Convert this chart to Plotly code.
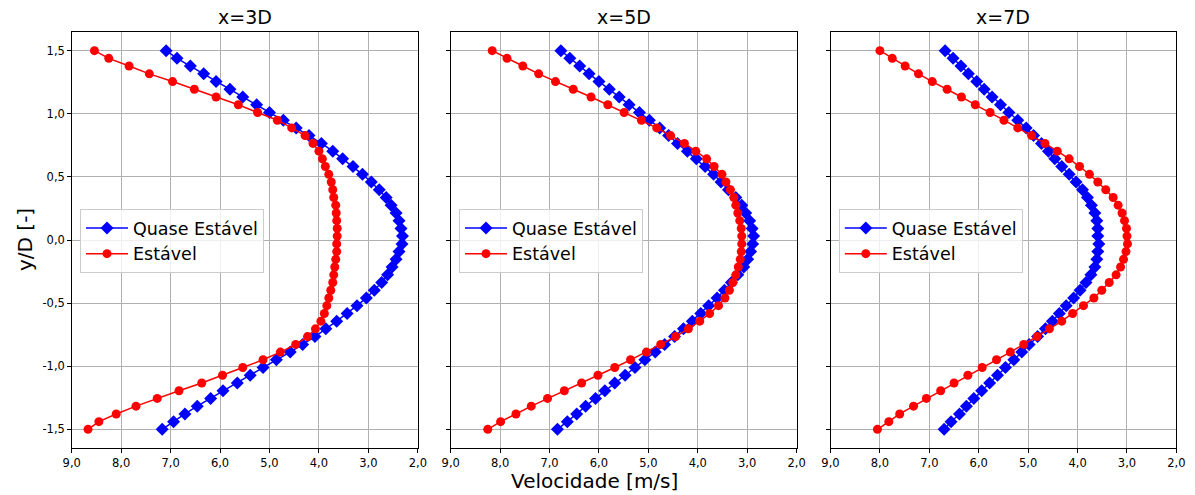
import plotly.graph_objects as go

# ---------------- data ----------------
y_pos = [1.5, 1.439, 1.378, 1.316, 1.255, 1.194, 1.133, 1.071, 1.010, 0.949,
         0.888, 0.827, 0.765, 0.704, 0.643, 0.582, 0.520, 0.459, 0.398, 0.337,
         0.276, 0.214, 0.153, 0.092, 0.031,
         -0.031, -0.092, -0.153, -0.214, -0.276, -0.337, -0.398, -0.459, -0.520, -0.582,
         -0.643, -0.704, -0.765, -0.827, -0.888, -0.949, -1.010, -1.071, -1.133, -1.194,
         -1.255, -1.316, -1.378, -1.439, -1.5]

titles = ["x=3D", "x=5D", "x=7D"]
series_names = ["Quase Estável", "Estável"]

quase_3D = [7.09, 6.87, 6.60, 6.33, 6.08, 5.80, 5.54, 5.26, 5.00, 4.72, 4.46, 4.20, 3.95,
            3.72, 3.52, 3.31, 3.12, 2.94, 2.78, 2.64, 2.54, 2.44, 2.38, 2.34, 2.31,
            2.32, 2.38, 2.44, 2.52, 2.61, 2.73, 2.88, 3.04, 3.23, 3.43, 3.64, 3.86, 4.08,
            4.33, 4.58, 4.86, 5.13, 5.39, 5.65, 5.94, 6.19, 6.46, 6.71, 6.94, 7.17]
estavel_3D = [8.54, 8.25, 7.84, 7.43, 6.96, 6.52, 6.08, 5.63, 5.24, 4.84, 4.55, 4.28, 4.12,
              4.00, 3.93, 3.87, 3.80, 3.75, 3.72, 3.70, 3.66, 3.65, 3.64, 3.63, 3.63,
              3.64, 3.64, 3.66, 3.68, 3.70, 3.72, 3.76, 3.80, 3.84, 3.89, 3.96, 4.07, 4.23,
              4.47, 4.78, 5.13, 5.54, 5.95, 6.37, 6.83, 7.27, 7.70, 8.10, 8.45, 8.67]

quase_5D = [6.77, 6.59, 6.39, 6.20, 6.00, 5.79, 5.59, 5.39, 5.18, 4.98, 4.77, 4.59, 4.41,
            4.21, 4.03, 3.85, 3.68, 3.53, 3.38, 3.23, 3.11, 3.03, 2.95, 2.90, 2.87,
            2.89, 2.93, 2.99, 3.07, 3.19, 3.32, 3.46, 3.61, 3.78, 3.94, 4.11, 4.29, 4.47,
            4.67, 4.86, 5.07, 5.27, 5.47, 5.68, 5.88, 6.07, 6.27, 6.45, 6.64, 6.84]
estavel_5D = [8.16, 7.86, 7.54, 7.22, 6.88, 6.52, 6.16, 5.82, 5.49, 5.14, 4.83, 4.55, 4.27,
              4.04, 3.82, 3.67, 3.51, 3.43, 3.34, 3.27, 3.23, 3.19, 3.15, 3.12, 3.11,
              3.11, 3.12, 3.14, 3.18, 3.23, 3.29, 3.36, 3.45, 3.58, 3.76, 3.96, 4.19, 4.45,
              4.75, 5.04, 5.36, 5.68, 6.02, 6.35, 6.70, 7.04, 7.37, 7.68, 7.99, 8.25]

quase_7D = [6.68, 6.52, 6.36, 6.21, 6.04, 5.89, 5.73, 5.56, 5.39, 5.21, 5.04, 4.89, 4.73,
            4.59, 4.46, 4.32, 4.17, 4.03, 3.90, 3.80, 3.72, 3.65, 3.61, 3.59, 3.59,
            3.57, 3.59, 3.61, 3.65, 3.73, 3.83, 3.95, 4.08, 4.23, 4.37, 4.51, 4.65, 4.81,
            4.98, 5.13, 5.29, 5.46, 5.62, 5.78, 5.94, 6.10, 6.25, 6.39, 6.56, 6.70]
estavel_7D = [8.00, 7.75, 7.49, 7.22, 6.94, 6.64, 6.35, 6.07, 5.77, 5.49, 5.21, 4.93, 4.66,
              4.41, 4.17, 3.96, 3.76, 3.59, 3.43, 3.28, 3.18, 3.10, 3.05, 3.01, 3.00,
              2.99, 3.02, 3.07, 3.13, 3.22, 3.36, 3.51, 3.67, 3.88, 4.10, 4.32, 4.57, 4.82,
              5.09, 5.36, 5.64, 5.93, 6.22, 6.50, 6.77, 7.06, 7.32, 7.60, 7.82, 8.05]

x_tickvals = [9, 8, 7, 6, 5, 4, 3, 2]
x_ticktext = ["9,0", "8,0", "7,0", "6,0", "5,0", "4,0", "3,0", "2,0"]
y_tickvals = [1.5, 1.0, 0.5, 0.0, -0.5, -1.0, -1.5]
y_ticktext = ["1,5", "1,0", "0,5", "0,0", "-0,5", "-1,0", "-1,5"]

# ---------------- layout geometry ----------------
W, H = 1195, 495
FONT = "DejaVu Sans"
panels_px = [(71.7, 417.8), (450.7, 796.6), (830.5, 1176.4)]
y_top_px, y_bot_px = 31.7, 448.3
ydom = [1 - y_bot_px / H, 1 - y_top_px / H]

fig = go.Figure()
quase_all = [quase_3D, quase_5D, quase_7D]
est_all = [estavel_3D, estavel_5D, estavel_7D]

for i in range(3):
    sfx = "" if i == 0 else str(i + 1)
    leg = "legend" + sfx
    fig.add_trace(go.Scatter(
        x=quase_all[i], y=y_pos, mode="lines+markers", name=series_names[0],
        line=dict(color="#0000ff", width=1.5),
        marker=dict(symbol="diamond", size=10, color="#0000ff"),
        xaxis="x" + sfx, yaxis="y" + sfx, legend=leg))
    fig.add_trace(go.Scatter(
        x=est_all[i], y=y_pos, mode="lines+markers", name=series_names[1],
        line=dict(color="#ff0000", width=1.5),
        marker=dict(symbol="circle", size=9, color="#ff0000"),
        xaxis="x" + sfx, yaxis="y" + sfx, legend=leg))

axis_common = dict(showline=True, linecolor="black", linewidth=1, mirror=True,
                   showgrid=True, gridcolor="#b0b0b0", gridwidth=0.8,
                   ticks="outside", ticklen=3.5, tickwidth=1, tickcolor="black",
                   zeroline=False, tickfont=dict(family=FONT, size=11.5, color="black"),
                   automargin=False)

layout = dict(width=W, height=H, margin=dict(l=0, r=0, t=0, b=0),
              paper_bgcolor="white", plot_bgcolor="white",
              font=dict(family=FONT, color="black"))
annotations = []
for i, (x0, x1) in enumerate(panels_px):
    sfx = "" if i == 0 else str(i + 1)
    layout["xaxis" + sfx] = dict(axis_common, domain=[x0 / W, x1 / W], range=[9, 2],
                                 tickvals=x_tickvals, ticktext=x_ticktext,
                                 anchor="y" + sfx)
    layout["yaxis" + sfx] = dict(axis_common, domain=ydom, range=[-1.65, 1.65],
                                 tickvals=y_tickvals, ticktext=y_ticktext,
                                 showticklabels=(i == 0), anchor="x" + sfx)
    layout["legend" + sfx] = dict(x=(x0 + 8.3) / W, y=1 - 209 / H,
                                  xanchor="left", yanchor="top",
                                  bgcolor="rgba(255,255,255,0.8)",
                                  bordercolor="#cccccc", borderwidth=1,
                                  itemwidth=42,
                                  font=dict(family=FONT, size=17.5, color="black"),
                                  tracegroupgap=0)
    annotations.append(dict(text=titles[i], x=(x0 + x1) / 2 / W, y=1 - 17 / H,
                            xref="paper", yref="paper", showarrow=False,
                            xanchor="center", yanchor="middle",
                            font=dict(family=FONT, size=19, color="black")))

annotations.append(dict(text="Velocidade [m/s]", x=594 / W, y=1 - 481 / H,
                        xref="paper", yref="paper", showarrow=False,
                        xanchor="center", yanchor="middle",
                        font=dict(family=FONT, size=20, color="black")))
annotations.append(dict(text="y/D [-]", x=25 / W, y=1 - 240 / H,
                        xref="paper", yref="paper", showarrow=False, textangle=-90,
                        xanchor="center", yanchor="middle",
                        font=dict(family=FONT, size=20, color="black")))
layout["annotations"] = annotations
fig.update_layout(**layout)

fig.write_html("out.html")
